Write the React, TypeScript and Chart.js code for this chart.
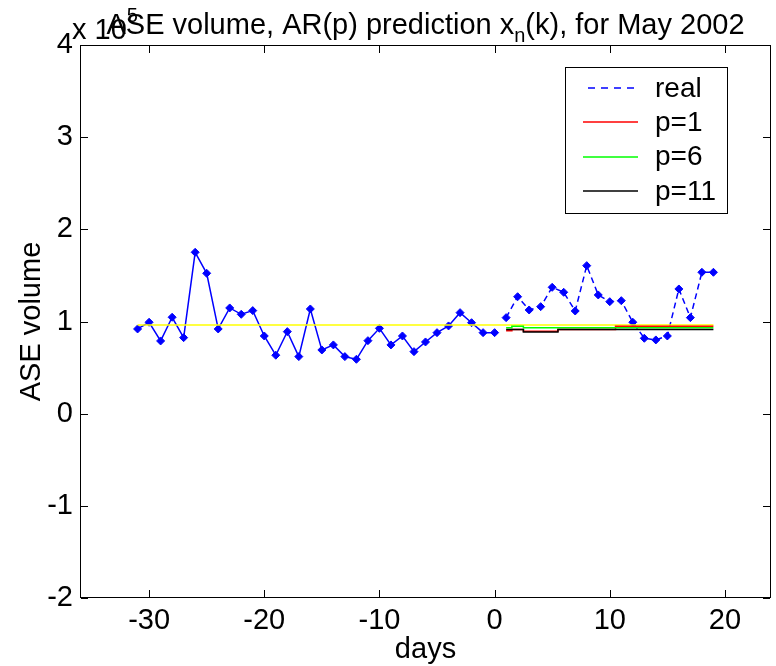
import React, { useEffect, useRef } from "react";
import { Chart, registerables } from "chart.js";

Chart.register(...registerables);

// ---- data (volume values, in units of shares) ----
const HIST_DAYS = [-31, -30, -29, -28, -27, -26, -25, -24, -23, -22, -21, -20, -19, -18, -17, -16, -15, -14, -13, -12, -11, -10, -9, -8, -7, -6, -5, -4, -3, -2, -1, 0];
const HIST_VALUES = [91900, 99200, 78900, 104600, 82500, 175100, 152300, 91900, 114700, 107800, 111800, 84300, 63400, 89000, 61900, 113600, 69100, 74600, 61900, 59000, 79200, 92600, 74600, 84300, 67300, 77800, 87900, 95200, 109600, 98700, 87900, 87900];

const FUTURE_DAYS = [1, 2, 3, 4, 5, 6, 7, 8, 9, 10, 11, 12, 13, 14, 15, 16, 17, 18, 19];
const REAL_VALUES = [104200, 126900, 112500, 116100, 137100, 131700, 111400, 160600, 128800, 121500, 122600, 99200, 81800, 80000, 84300, 135300, 104200, 153400, 153400];
const P1_VALUES = [90000, 91400, 89400, 89400, 89400, 91400, 91400, 91400, 91400, 91400, 94800, 94800, 94800, 94800, 94800, 94800, 94800, 94800, 94800];
const P6_VALUES = [93300, 94800, 93300, 93300, 93300, 93300, 93300, 93300, 93300, 93300, 93300, 93300, 93300, 93300, 93300, 93300, 93300, 93300, 93300];
const P11_VALUES = [91400, 91400, 88600, 88600, 88600, 91400, 91400, 91400, 91400, 91400, 91400, 91400, 91400, 91400, 91400, 91400, 91400, 91400, 91400];

const MEAN_DAYS = [-31, 19];
const MEAN_VALUES = [96200, 96200];

const X_TICKS = [-30, -20, -10, 0, 10, 20];
const Y_TICKS = [-200000, -100000, 0, 100000, 200000, 300000, 400000];
const X_RANGE = [-36, 24];
const Y_RANGE = [-200000, 400000];
const Y_EXPONENT = 5;

const TITLE_MAIN = "ASE volume, AR(p) prediction x";
const TITLE_SUB = "n";
const TITLE_REST = "(k), for May 2002";
const X_LABEL = "days";
const Y_LABEL = "ASE volume";

const LEGEND_LABELS = ["real", "p=1", "p=6", "p=11"];

const FONT = '"Liberation Sans", Arial, Helvetica, sans-serif';

const zip = (xs: number[], ys: number[]) => xs.map((x, i) => ({ x, y: ys[i] }));

const matlabPlugin = {
  id: "matlabDecor",
  afterDraw(chart: any) {
    const { ctx, chartArea: a, scales } = chart;
    ctx.save();
    ctx.setLineDash([]);
    // frame (crisp 1px rectangles)
    const L = Math.round(a.left);
    const R = Math.round(a.right) - 1;
    const Tp = Math.round(a.top);
    const B = Math.round(a.bottom) - 1;
    ctx.fillStyle = "#000";
    ctx.fillRect(L, Tp, R - L + 1, 1);
    ctx.fillRect(L, B, R - L + 1, 1);
    ctx.fillRect(L, Tp, 1, B - Tp + 1);
    ctx.fillRect(R, Tp, 1, B - Tp + 1);
    // inward ticks
    const T = 7;
    for (const v of X_TICKS) {
      const px = Math.round(scales.x.getPixelForValue(v));
      ctx.fillRect(px, B - T, 1, T);
      ctx.fillRect(px, Tp + 1, 1, T);
    }
    for (const v of Y_TICKS) {
      const py = Math.round(scales.y.getPixelForValue(v));
      ctx.fillRect(L + 1, py, T, 1);
      ctx.fillRect(R - T, py, T, 1);
    }

    // exponent label
    ctx.fillStyle = "#000";
    ctx.textBaseline = "alphabetic";
    ctx.textAlign = "left";
    ctx.font = `29px ${FONT}`;
    const ex = "x 10";
    ctx.fillText(ex, a.left - 8, 39);
    const exW = ctx.measureText(ex).width;
    ctx.font = `20px ${FONT}`;
    ctx.fillText(String(Y_EXPONENT), a.left - 8 + exW, 22);

    // title with subscript
    ctx.font = `29px ${FONT}`;
    const w1 = ctx.measureText(TITLE_MAIN).width;
    const w3 = ctx.measureText(TITLE_REST).width;
    ctx.font = `20px ${FONT}`;
    const w2 = ctx.measureText(TITLE_SUB).width;
    const total = w1 + w2 + w3;
    const cx = (a.left + a.right) / 2;
    let tx = cx - total / 2;
    const base = 34;
    ctx.font = `29px ${FONT}`;
    ctx.fillText(TITLE_MAIN, tx, base);
    tx += w1;
    ctx.font = `20px ${FONT}`;
    ctx.fillText(TITLE_SUB, tx, base + 8);
    tx += w2;
    ctx.font = `29px ${FONT}`;
    ctx.fillText(TITLE_REST, tx, base);

    // legend box
    const bx = Math.round(a.right) - 44 - 162;
    const by = Math.round(a.top) + 22;
    const bw = 162;
    const bh = 146;
    ctx.fillStyle = "#fff";
    ctx.fillRect(bx, by, bw, bh);
    ctx.fillStyle = "#000";
    ctx.fillRect(bx, by, bw, 1);
    ctx.fillRect(bx, by + bh, bw + 1, 1);
    ctx.fillRect(bx, by, 1, bh);
    ctx.fillRect(bx + bw, by, 1, bh);
    const items = [chart.data.datasets[1], chart.data.datasets[3], chart.data.datasets[4], chart.data.datasets[5]];
    ctx.font = `28px ${FONT}`;
    ctx.textBaseline = "middle";
    items.forEach((ds: any, i: number) => {
      const y = by + 21 + i * 34.3;
      ctx.beginPath();
      ctx.strokeStyle = ds.borderColor;
      ctx.lineWidth = 1.5;
      ctx.setLineDash(i === 0 ? [7, 6] : []);
      ctx.moveTo(bx + (i === 0 ? 23 : 18), Math.round(y));
      ctx.lineTo(bx + 73, Math.round(y));
      ctx.stroke();
      ctx.setLineDash([]);
      ctx.fillStyle = "#000";
      ctx.fillText(LEGEND_LABELS[i], bx + 90, y + 1);
    });
    ctx.restore();
  },
};

export default function App() {
  const ref = useRef<HTMLCanvasElement | null>(null);
  useEffect(() => {
    document.body.style.margin = "0";
    const canvas = ref.current!;
    const chart = new Chart(canvas, {
      type: "line",
      data: {
        datasets: [
          {
            label: "history",
            data: zip(HIST_DAYS, HIST_VALUES),
            borderColor: "#0000ff",
            backgroundColor: "#0000ff",
            borderWidth: 1.5,
            pointStyle: "rectRot",
            pointRadius: 4,
            pointBorderWidth: 1,
            order: 6,
          },
          {
            label: "real",
            data: zip(FUTURE_DAYS, REAL_VALUES),
            borderColor: "#0000ff",
            backgroundColor: "#0000ff",
            borderWidth: 1.5,
            borderDash: [6, 4],
            pointStyle: "rectRot",
            pointRadius: 4,
            pointBorderWidth: 1,
            order: 5,
          },
          {
            label: "mean",
            data: zip(MEAN_DAYS, MEAN_VALUES),
            borderColor: "#ffff00",
            borderWidth: 1.5,
            pointRadius: 0,
            order: 4,
          },
          {
            label: "p=1",
            data: zip(FUTURE_DAYS, P1_VALUES),
            borderColor: "#ff0000",
            borderWidth: 1.5,
            pointRadius: 0,
            stepped: "middle",
            order: 3,
          },
          {
            label: "p=6",
            data: zip(FUTURE_DAYS, P6_VALUES),
            borderColor: "#00ff00",
            borderWidth: 1.5,
            pointRadius: 0,
            stepped: "middle",
            order: 2,
          },
          {
            label: "p=11",
            data: zip(FUTURE_DAYS, P11_VALUES),
            borderColor: "#000000",
            borderWidth: 1.5,
            pointRadius: 0,
            stepped: "middle",
            order: 1,
          },
        ],
      },
      options: {
        animation: false,
        responsive: false,
        maintainAspectRatio: false,
        layout: { padding: { top: 45, right: 3, left: 0, bottom: 0 } },
        plugins: {
          legend: { display: false },
          title: { display: false },
          tooltip: { enabled: false },
        },
        scales: {
          x: {
            type: "linear",
            min: X_RANGE[0],
            max: X_RANGE[1],
            grid: { display: false, drawTicks: false },
            border: { display: false },
            afterBuildTicks: (s: any) => {
              s.ticks = X_TICKS.map((v) => ({ value: v }));
            },
            afterFit: (s: any) => {
              s.height = 68;
              s.paddingLeft = 0;
              s.paddingRight = 0;
            },
            ticks: {
              color: "#000",
              padding: 6,
              maxRotation: 0,
              autoSkip: false,
              font: { size: 29, family: FONT },
              callback: (v: any) => String(v),
            },
            title: {
              display: true,
              text: X_LABEL,
              color: "#000",
              font: { size: 29, family: FONT },
              padding: { top: 0, bottom: -1 },
            },
          },
          y: {
            type: "linear",
            min: Y_RANGE[0],
            max: Y_RANGE[1],
            grid: { display: false, drawTicks: false },
            border: { display: false },
            afterBuildTicks: (s: any) => {
              s.ticks = Y_TICKS.map((v) => ({ value: v }));
            },
            afterFit: (s: any) => {
              s.width = 80;
            },
            ticks: {
              color: "#000",
              padding: 7,
              autoSkip: false,
              font: { size: 29, family: FONT },
              callback: (v: any) => String(Number(v) / Math.pow(10, Y_EXPONENT)),
            },
            title: {
              display: true,
              text: Y_LABEL,
              color: "#000",
              font: { size: 29, family: FONT },
              padding: { top: 15, bottom: 0 },
            },
          },
        },
      },
      plugins: [matlabPlugin],
    });
    return () => chart.destroy();
  }, []);
  return (
    <div style={{ width: 776, height: 666 }}>
      <canvas ref={ref} width={776} height={666} style={{ display: "block" }} />
    </div>
  );
}
